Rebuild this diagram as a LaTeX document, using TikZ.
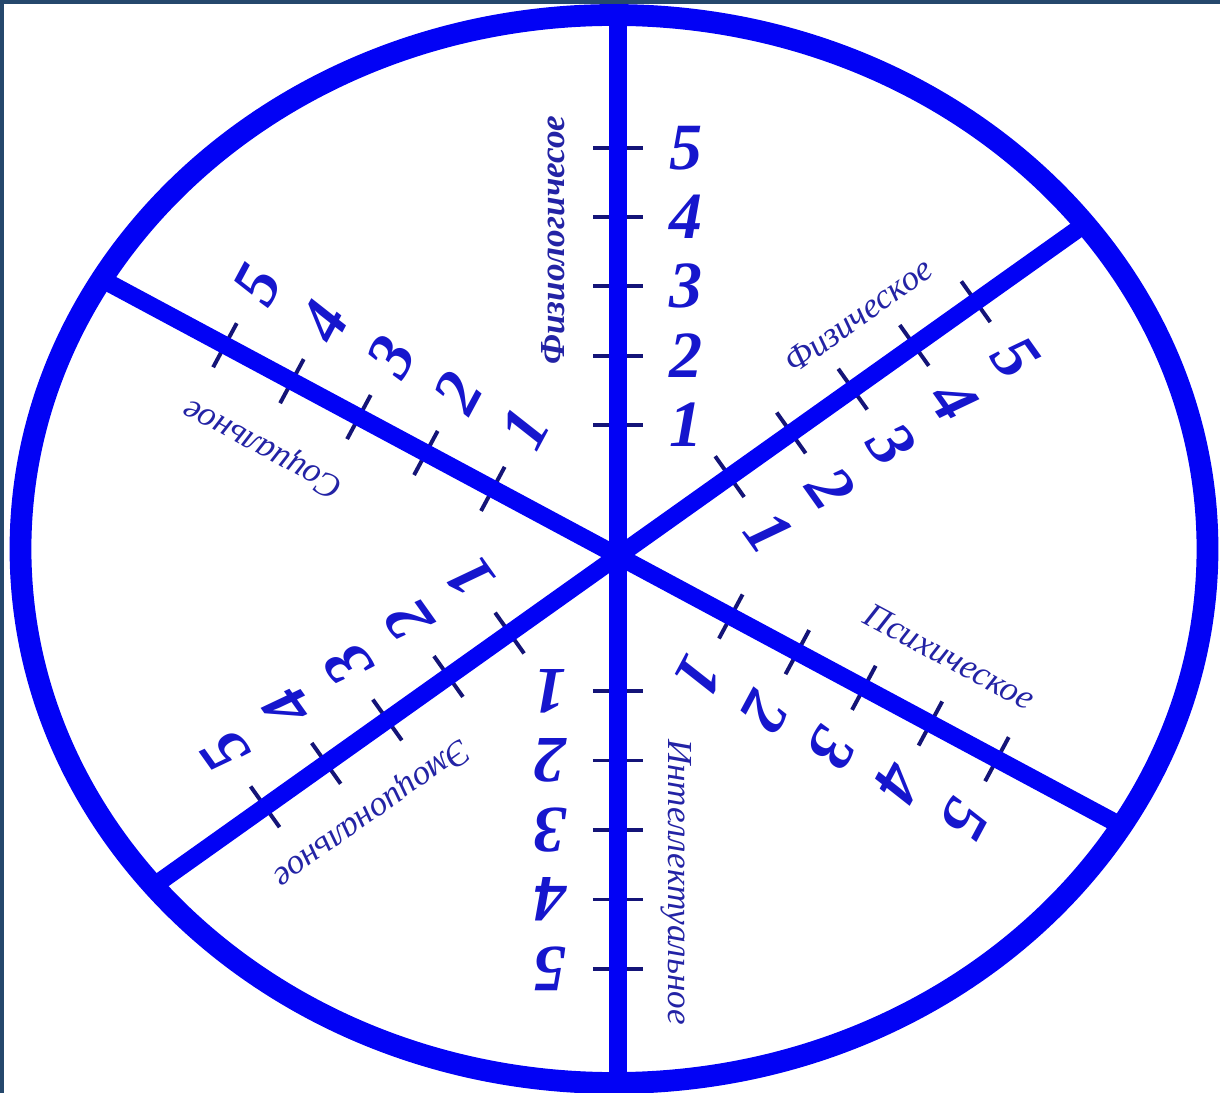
\documentclass[tikz,border=0pt]{standalone}
\usepackage{fontspec}
\setmainfont{Liberation Serif}
\usetikzlibrary{calc}

\definecolor{ringblue}{RGB}{2,2,245}
\definecolor{tickblue}{RGB}{20,20,120}
\definecolor{numblue}{RGB}{22,22,205}
\definecolor{capblue}{RGB}{35,35,165}
\definecolor{slidenavy}{RGB}{37,72,108}

\begin{document}
\begin{tikzpicture}[
  x=0.25mm, y=0.25mm,
  rim/.style={draw=ringblue, line width=15.5pt},
  spoke/.style={draw=ringblue, line width=12.5pt},
  tick/.style={draw=tickblue, line width=2.8pt},
  score/.style={text=numblue, inner sep=0pt,
                font=\fontsize{47}{47}\selectfont\bfseries\itshape},
  axislab/.style={text=capblue, inner sep=0pt,
                  font=\fontsize{25}{25}\selectfont\itshape},
]

% --- slide frame ---
\fill[slidenavy] (-618,-537) rectangle (602,556);
\fill[white] (-614,-537) rectangle (602,552);
\useasboundingbox (-618,-537) rectangle (602,556);
\clip (-618,-537) rectangle (602,556);

% --- scales: angle / first tick / step / label / along / offset / weight ---
\foreach \a/\dA/\dS/\lab/\ld/\lo/\lw [count=\i] in {
  90/131/69.3/Физиологичесое/316/65/\bfseries,
  35.4/137/75.5/Физическое/335/57/\mdseries,
  -28.2/128/75.5/Психическое/340/68/\mdseries,
  -90/135/69.5/Интеллектуальное/326/58/\mdseries,
  215.4/133/75/Эмоциональное/350/66/\mdseries,
  151.8/142/76/Социальное/364/72/\mdseries}{
  \foreach \k in {1,...,5}{
    \pgfmathsetmacro\d{\dA+(\k-1)*\dS}
    \draw[tick] ($(\a:\d)+(\a-90:25)$) -- ($(\a:\d)+(\a+90:25)$);
    \node[score, rotate=\a-90] (s\i-\k) at ($(\a:\d)+(\a-90:68)$) {\k};
  }
  \node[axislab, rotate=\a] (lab\i) at ($(\a:\ld)+(\a+90:\lo)$) {\lw\lab};
}

% --- spokes ---
\begin{scope}
  \clip (-4,7) ellipse [x radius=593.5, y radius=534];
  \draw[spoke] (90:700) -- (-90:700);
  \draw[spoke] (151.8:700) -- (-28.2:700);
  \draw[spoke] (35.4:700) -- (215.4:700);
\end{scope}

% --- rim ---
\draw[rim] (-4,7) ellipse [x radius=593.5, y radius=534];

\end{tikzpicture}
\end{document}
